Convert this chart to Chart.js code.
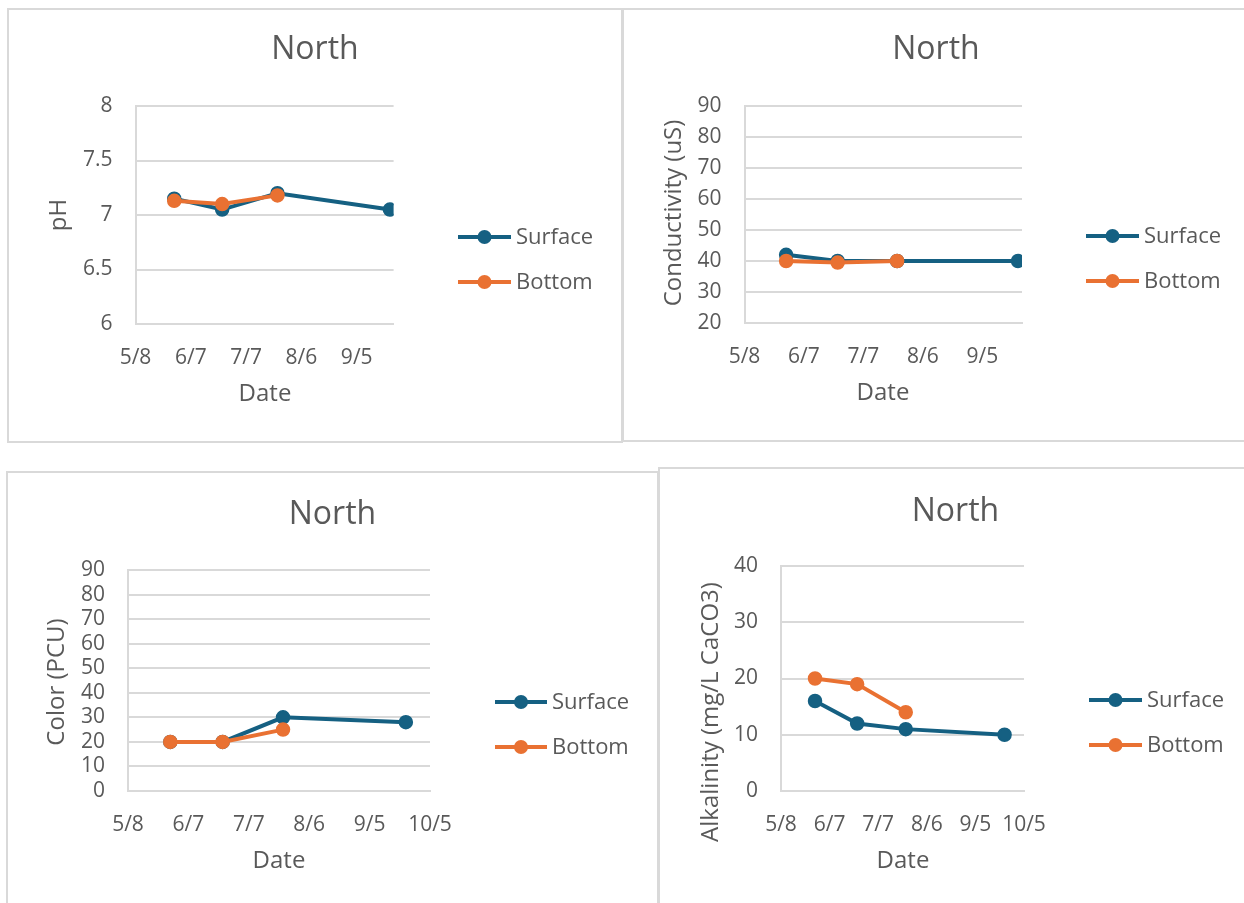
<!DOCTYPE html>
<html>
<head>
<meta charset="utf-8">
<script src="https://cdn.jsdelivr.net/npm/chart.js@4.4.1/dist/chart.umd.min.js"></script>
<style>
html, body { margin: 0; padding: 0; background: #fff; overflow: hidden; width: 1244px; height: 903px; }
.box { position: absolute; border: 2px solid #d9d9d9; box-sizing: border-box; }
canvas { position: absolute; }
</style>
</head>
<body>
<div class="box" style="left:7px;top:8px;width:616px;height:435px"></div>
<div class="box" style="left:622px;top:8px;width:630px;height:434px"></div>
<div class="box" style="left:6px;top:471px;width:653px;height:440px"></div>
<div class="box" style="left:658px;top:467px;width:600px;height:445px"></div>
<canvas id="ph"></canvas>
<canvas id="cond"></canvas>
<canvas id="color"></canvas>
<canvas id="alk"></canvas>
<script>
// Sampling dates and tick dates (day 0 is 5/8).
const origin = "2024-05-08";
const sampleDates = ["2024-05-29", "2024-06-24", "2024-07-24", "2024-09-23"];
const tickDates = ["2024-05-08", "2024-06-07", "2024-07-07", "2024-08-06", "2024-09-05", "2024-10-05"];
const seriesNames = ["Surface", "Bottom"];

// Values.
const phSurface = [7.15, 7.05, 7.2, 7.05];
const phBottom = [7.13, 7.1, 7.18];
const condSurface = [42, 40, 40, 40];
const condBottom = [40, 39.5, 40];
const colorSurface = [20, 20, 30, 28];
const colorBottom = [20, 20, 25];
const alkSurface = [16, 12, 11, 10];
const alkBottom = [20, 19, 14];

const surfaceColor = "#156082";
const bottomColor = "#E97132";
const textColor = "#595959";
const gridColor = "#d9d9d9";
const fontFamily = "'Open Sans', sans-serif";

function toDay(d) {
    return (Date.parse(d) - Date.parse(origin)) / 86400000;
}

function dayLabel(v) {
    const d = new Date(Date.parse(origin) + v * 86400000);
    return (d.getUTCMonth() + 1) + "/" + d.getUTCDate();
}

function points(values) {
    return values.map((y, i) => ({x: toDay(sampleDates[i]), y: y}));
}

// Title, axis titles and the Excel style legend (line + marker).
const decorations = {
    id: "decorations",
    afterDraw(chart, args, opts) {
        const {ctx} = chart;
        ctx.save();
        ctx.fillStyle = textColor;
        ctx.textAlign = "center";
        ctx.textBaseline = "middle";

        ctx.font = "32px " + fontFamily;
        ctx.fillText("North", opts.title[0], opts.title[1]);

        ctx.font = "24px " + fontFamily;
        ctx.fillText("Date", opts.xTitle[0], opts.xTitle[1]);

        ctx.save();
        ctx.translate(opts.yTitle[0], opts.yTitle[1]);
        ctx.rotate(-Math.PI / 2);
        ctx.fillText(opts.yLabel, 0, 0);
        ctx.restore();

        ctx.font = "22px " + fontFamily;
        ctx.textAlign = "left";
        chart.data.datasets.forEach((ds, i) => {
            const y = opts.legendY[i];
            const [x0, x1] = opts.legendX;
            ctx.strokeStyle = ds.borderColor;
            ctx.lineWidth = 4;
            ctx.beginPath();
            ctx.moveTo(x0, y);
            ctx.lineTo(x1, y);
            ctx.stroke();
            ctx.fillStyle = ds.borderColor;
            ctx.beginPath();
            ctx.arc((x0 + x1) / 2, y, 7, 0, Math.PI * 2);
            ctx.fill();
            ctx.fillStyle = textColor;
            ctx.fillText(ds.label, x1 + 5, y + 1);
        });
        ctx.restore();
    }
};

function makeChart(id, cfg) {
    const canvas = document.getElementById(id);
    canvas.width = cfg.box.w;
    canvas.height = cfg.box.h;
    canvas.style.left = cfg.box.x + "px";
    canvas.style.top = cfg.box.y + "px";

    const yW = 60, xH = 50;
    const plot = cfg.plot;

    new Chart(canvas, {
        type: "line",
        data: {
            datasets: [
                {
                    label: seriesNames[0],
                    data: points(cfg.surface),
                    borderColor: surfaceColor,
                    backgroundColor: surfaceColor,
                    order: 1,
                },
                {
                    label: seriesNames[1],
                    data: points(cfg.bottom),
                    borderColor: bottomColor,
                    backgroundColor: bottomColor,
                    order: 0,
                },
            ]
        },
        options: {
            responsive: false,
            animation: false,
            events: [],
            layout: {
                padding: {
                    left: plot.l - yW,
                    right: cfg.box.w - plot.r,
                    top: plot.t,
                    bottom: cfg.box.h - plot.b - xH,
                }
            },
            elements: {
                line: {borderWidth: 4, tension: 0},
                point: {radius: 6.5, borderWidth: 1.5},
            },
            scales: {
                x: {
                    type: "linear",
                    min: 0,
                    max: toDay(cfg.xEnd),
                    afterFit(scale) { scale.height = xH; },
                    afterBuildTicks(scale) {
                        scale.ticks = tickDates.map(toDay).filter(v => v <= scale.max).map(v => ({value: v}));
                    },
                    grid: {display: false},
                    border: {display: true, color: gridColor, width: 2},
                    ticks: {
                        callback: v => dayLabel(v),
                        color: textColor,
                        font: {family: fontFamily, size: 21},
                        padding: 13,
                        maxRotation: 0,
                        autoSkip: false,
                    },
                },
                y: {
                    min: cfg.yMin,
                    max: cfg.yMax,
                    afterFit(scale) { scale.width = yW; },
                    grid: {color: gridColor, lineWidth: 2, drawTicks: false},
                    border: {display: true, color: gridColor, width: 2},
                    ticks: {
                        stepSize: cfg.yStep,
                        autoSkip: false,
                        callback: v => String(v),
                        color: textColor,
                        font: {family: fontFamily, size: 21},
                        padding: 23,
                    },
                },
            },
            plugins: {
                legend: {display: false},
                title: {display: false},
                tooltip: {enabled: false},
                decorations: cfg.text,
            }
        },
        plugins: [decorations],
    });
}

makeChart("ph", {
    box: {x: 7, y: 8, w: 615, h: 434},
    plot: {l: 128.5, r: 386.6, t: 98, b: 316},
    xEnd: "2024-09-25",
    yMin: 6, yMax: 8, yStep: 0.5,
    surface: phSurface, bottom: phBottom,
    text: {title: [308, 42], xTitle: [258, 386], yTitle: [52, 207], yLabel: "pH", legendX: [451, 504], legendY: [229, 274]},
});

makeChart("cond", {
    box: {x: 623, y: 8, w: 621, h: 433},
    plot: {l: 121.5, r: 399, t: 98, b: 315},
    xEnd: "2024-09-25",
    yMin: 20, yMax: 90, yStep: 10,
    surface: condSurface, bottom: condBottom,
    text: {title: [313, 42], xTitle: [260, 385], yTitle: [51, 205], yLabel: "Conductivity (uS)", legendX: [463, 516], legendY: [228, 273]},
});

makeChart("color", {
    box: {x: 6, y: 471, w: 652, h: 432},
    plot: {l: 122, r: 424, t: 99, b: 320},
    xEnd: "2024-10-05",
    yMin: 0, yMax: 90, yStep: 10,
    surface: colorSurface, bottom: colorBottom,
    text: {title: [326.5, 44], xTitle: [273, 390], yTitle: [51, 211], yLabel: "Color (PCU)", legendX: [489, 541], legendY: [231, 276]},
});

makeChart("alk", {
    box: {x: 659, y: 467, w: 585, h: 436},
    plot: {l: 122, r: 365, t: 99, b: 324},
    xEnd: "2024-10-05",
    yMin: 0, yMax: 40, yStep: 10,
    surface: alkSurface, bottom: alkBottom,
    text: {title: [296.5, 45], xTitle: [244, 394], yTitle: [52, 245], yLabel: "Alkalinity (mg/L CaCO3)", legendX: [430, 483], legendY: [233, 278]},
});
</script>
</body>
</html>
